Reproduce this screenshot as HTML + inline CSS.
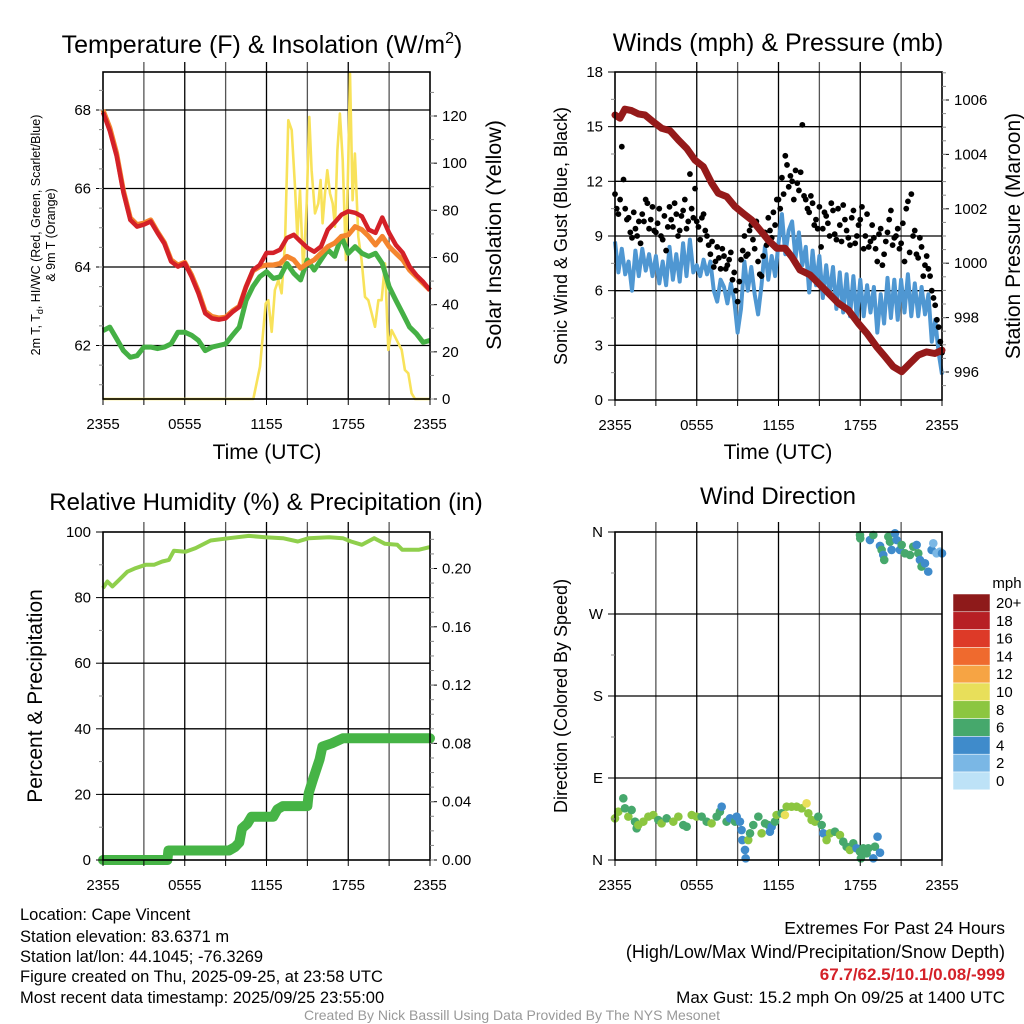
<!DOCTYPE html>
<html><head><meta charset="utf-8"><style>
html,body{margin:0;padding:0;background:#fff;}
svg{display:block;font-family:"Liberation Sans",Arial,sans-serif;}
</style></head><body>
<svg id="c" width="1024" height="1024" viewBox="0 0 1024 1024"></svg>
<script>
// ---------- Panel 1 data (hours 0..24 step 0.5) ----------
const tempRed=[67.94,67.47,66.83,65.9,65.2,65.03,65.08,65.16,64.87,64.6,64.14,64.01,64.1,63.75,63.33,62.82,62.69,62.66,62.69,62.85,62.98,63.5,63.92,64.05,64.36,64.36,64.44,64.74,64.82,64.65,64.49,64.39,64.52,64.95,65.13,65.33,65.42,65.38,65.29,64.95,64.87,65.26,64.87,64.56,64.36,64.01,63.79,63.62,63.41];
const tempOrange=[68.0,67.55,66.9,65.95,65.25,65.08,65.12,65.2,64.9,64.63,64.18,64.05,64.12,63.8,63.38,62.87,62.74,62.7,62.72,62.88,63.0,63.5,63.9,64.01,64.05,64.05,64.09,64.27,64.18,63.97,64.09,64.18,64.35,64.52,64.61,64.78,64.82,65.03,64.95,64.78,64.56,64.78,64.52,64.35,64.18,63.92,63.75,63.58,63.41];
const tempGreen=[62.38,62.47,62.17,61.87,61.7,61.74,61.96,61.96,61.92,61.96,62.04,62.34,62.34,62.26,62.13,61.87,61.96,62.0,62.04,62.26,62.47,63.15,63.5,63.75,63.88,63.71,63.75,64.09,63.84,63.67,64.18,63.92,64.18,64.44,64.27,64.78,64.35,64.52,64.35,64.27,64.35,64.09,63.5,63.15,62.81,62.47,62.3,62.08,62.13];
const solarHours=[0,11.03,11.52,11.94,12.13,12.38,12.62,12.87,13.11,13.36,13.6,13.85,14.09,14.26,14.46,14.7,14.95,15.14,15.31,15.56,15.8,15.97,16.12,16.29,16.46,16.66,16.86,17.03,17.2,17.39,17.59,17.83,18.0,18.13,18.32,18.49,18.74,18.98,19.23,19.47,19.72,19.96,20.21,20.45,20.7,20.94,21.18,21.43,21.67,21.92,22.16,22.41,22.65,22.9,24];
const solarVals=[0,0,13.7,40.5,41.9,28.5,46.2,50.4,44.8,66.0,118.2,114,90,68.8,88.6,53.3,82.9,119.6,97,78.7,82.9,92.8,74.5,87.2,97,87.2,82.9,73,105.5,121,101.3,58.9,101.3,138,84.3,104.1,68.8,58.9,43.3,41.9,36.3,30.6,41.9,41.9,57.5,20.8,29.2,26.4,23.6,20.8,12.3,10.9,2.4,0,0];
const tempTicks=[62,64,66,68];
const solarTicks=[0,20,40,60,80,100,120];
const timeLabels=["2355","0555","1155","1755","2355"];
// ---------- Panel 2 data ----------
const pressHours=[0,0.37,0.73,1.22,1.71,2.2,2.81,3.43,4.04,4.65,5.26,5.87,6.48,7.1,7.58,8.2,8.81,9.42,10.03,10.64,11.25,11.87,12.48,12.97,13.58,14.31,14.92,15.66,16.39,17.12,17.86,18.47,19.2,19.81,20.42,21.04,21.65,22.26,22.87,23.48,24];
const pressVals=[1005.45,1005.33,1005.66,1005.61,1005.49,1005.45,1005.2,1004.96,1004.87,1004.53,1004.22,1003.79,1003.55,1002.94,1002.57,1002.45,1002.08,1001.83,1001.59,1001.22,1000.85,1000.55,1000.55,1000.24,999.75,999.57,999.27,998.9,998.53,998.28,997.79,997.43,996.93,996.57,996.2,996.01,996.32,996.62,996.74,996.68,996.8];
const windSpeed=[8.7,7.0,8.3,6.9, 7.6,6.0,8.2,6.8, 8.3,7.1,8.0,6.8, 7.9,6.4,7.6,6.3, 8.4,6.6,8.0,6.5, 8.6,6.8,8.8,7.0, 7.4,6.8,7.7,6.9, 7.6,6.0,5.4,6.6, 6.2,5.3,6.4,5.5, 3.7,5.0,7.6,6.0, 7.3,5.8,4.7,6.3, 8.4,6.6,7.9,6.8, 8.6,10.2,8.0,9.3, 9.8,7.8,9.2,7.4, 8.4,5.9,8.2,6.3, 7.9,5.6,7.4,5.8, 7.3,5.0,7.0,4.8, 6.9,4.6,6.8,4.5, 6.6,4.6,6.3,4.8, 6.2,3.7,5.8,4.2, 6.7,4.5,6.6,4.4, 6.6,4.8,6.9,4.6, 6.4,4.6,6.2,4.7, 5.8,3.2,4.4,2.6, 1.4];
const gustA=[11.3,10.2,13.9,10.5, 10.0,8.9,9.4,9.8, 10.2,11.0,9.4,10.6, 9.2,10.5,8.8,8.2, 10.6,9.5,10.2,9.3, 10.4,9.4,12.4,10.0, 9.8,8.8,10.2,9.0, 8.0,7.3,8.4,7.2, 7.9,7.4,8.1,7.0, 5.4,7.7,9.0,8.0, 9.6,8.3,7.6,6.8, 9.2,10.0,8.9,9.6, 11.0,12.2,13.4,11.7, 12.0,12.6,11.5,15.1, 11.0,10.3,10.8,9.9, 10.6,9.4,10.1,9.0, 10.4,8.8,9.6,10.7, 9.3,8.5,10.4,9.0, 9.9,8.3,10.2,8.7, 8.9,7.6,9.4,8.0, 9.2,10.4,8.9,9.4, 8.6,7.6,10.9,11.3, 9.3,7.8,8.4,7.4, 7.2,6.0,5.2,4.0, 2.6];
const gustB=[10.5,11.0,12.1,9.9, 9.2,10.3,9.0,8.6, 9.8,10.8,9.9,9.3, 9.7,9.0,10.1,9.5, 9.9,10.8,9.0,10.1, 11.0,9.8,10.5,11.6, 9.5,10.0,9.3,8.5, 8.7,7.6,7.8,8.3, 7.2,7.7,6.6,6.0, 6.5,8.2,7.9,9.3, 8.8,9.8,6.9,7.9, 8.5,9.3,10.3,11.0, 10.5,11.3,12.9,12.3, 11.0,11.9,12.5,11.2, 10.5,11.2,9.6,9.4, 8.4,10.3,9.7,10.8, 9.1,10.5,8.7,9.9, 8.9,10.0,8.6,9.6, 10.6,9.0,8.4,9.6, 8.3,9.1,7.4,8.7, 9.9,8.5,9.0,8.3, 9.7,10.5,8.1,9.0, 8.0,8.9,6.8,7.9, 6.8,5.6,4.4,3.2];
const windTicks=[0,3,6,9,12,15,18];
const pressTicks=[996,998,1000,1002,1004,1006];
// ---------- Panel 3 data ----------
const rhHours=[0,0.32,0.69,1.18,1.79,2.4,3.13,3.74,4.35,4.84,5.2,6.06,6.8,7.9,9.25,10.7,11.9,13.2,14.3,15.1,16.6,17.6,18.2,19.0,19.9,20.7,21.6,21.96,23.2,24];
const rhVals=[82.9,84.9,83.4,85.4,87.9,89,90,90,91,91.5,94.3,94,95.1,97.4,98.1,98.8,98.4,98.1,97.1,98.1,98.4,98.1,97.1,96.1,98.1,96.4,96.1,94.6,94.6,95.4];
const precipHours=[0,4.73,4.8,9.25,9.7,10.0,10.2,10.6,10.9,12.5,12.8,13.2,15.0,15.1,15.4,15.9,16.1,16.8,17.6,24];
const precipVals=[0,0,0.0065,0.0065,0.009,0.012,0.0217,0.025,0.0297,0.0297,0.0348,0.037,0.037,0.0458,0.0549,0.069,0.0778,0.0801,0.0835,0.0835];
const rhTicks=[0,20,40,60,80,100];
const precipTicks=[0,0.04,0.08,0.12,0.16,0.2];
// ---------- Panel 4 data ----------
const dirHours=[0,0.24,0.61,0.73,0.98,1.22,1.47,1.59,1.71,2.08,2.45,2.81,3.18,3.42,3.79,4.28,4.65,5.01,5.26,5.63,5.99,6.36,6.73,7.09,7.46,7.7,7.83,8.19,8.44,8.81,8.93,9.17,9.29,9.34,9.54,9.59,9.78,9.91,10.15,10.52,10.76,11.01,11.25,11.37,11.5,11.74,11.86,12.23,12.47,12.6,12.96,13.33,13.7,14.06,14.19,14.43,14.68,14.92,15.17,15.29,15.53,15.78,16.14,16.51,16.75,17.0,17.24,17.49,17.73,17.98,18.05,18.22,18.47,18.59,18.96,19.08,19.27,19.45,
 17.98,18.0,18.71,18.96,19.45,19.57,19.69,19.76,20.06,20.18,20.3,20.55,20.67,20.91,21.04,21.28,21.65,21.89,22.14,22.26,22.38,22.5,22.75,22.99,23.24,23.36,23.6,23.85,24.0];
const dirDeg=[45.7,53.0,67.7,56.7,47.6,54.9,42.1,34.8,38.4,42.1,47.6,49.4,43.9,40.2,45.7,42.1,47.6,38.4,36.6,49.4,47.6,47.6,42.1,40.2,47.6,53.0,58.5,42.1,45.7,42.1,47.6,42.1,32.9,21.9,11.0,1.8,21.9,29.3,38.4,47.6,29.3,40.2,38.4,31.1,36.6,42.1,49.4,51.2,49.4,58.5,58.5,58.5,56.7,62.2,51.2,43.9,42.1,47.6,38.4,29.3,21.9,29.3,31.1,27.4,20.1,14.6,11.0,18.3,12.8,9.1,1.8,12.8,7.3,12.8,1.8,14.6,25.6,8.0,
 356.7,353.1,351.2,356.7,344.7,340.3,334.8,329.3,354.9,349.4,340.3,358.6,351.2,340.3,345.8,336.6,334.8,343.9,345.8,336.6,329.3,322.0,325.6,316.5,340.3,347.6,336.6,338.4,336.6];
const dirSpeed=[9,9,7,7,9,7,7,7,9,9,9,9,7,9,7,9,9,7,7,9,9,7,7,9,7,7,5,7,5,7,5,5,5,5,5,5,9,7,7,7,9,7,7,5,5,7,9,7,11,9,9,9,9,11,9,9,9,7,7,5,9,9,7,9,7,7,9,7,5,7,7,7,7,7,5,7,5,5,
 7,7,5,7,5,7,5,7,7,7,5,5,5,5,7,7,7,7,5,7,5,7,5,5,5,3,3,3,5];
const dirLabels=["N","E","S","W","N"];
const speedBins=["20+","18","16","14","12","10","8","6","4","2","0"];

const NS="http://www.w3.org/2000/svg";
const svg=document.getElementById("c");
function mk(tag,attrs,parent){const e=document.createElementNS(NS,tag);for(const k in attrs)e.setAttribute(k,attrs[k]);(parent||svg).appendChild(e);return e;}
function txt(s,x,y,size,anchor,parent,extra){const t=mk("text",Object.assign({x:x,y:y,"font-size":size,"text-anchor":anchor||"middle",fill:"#000"},extra||{}),parent);t.textContent=s;return t;}

function lin(d0,d1,r0,r1){return v=>r0+(v-d0)*(r1-r0)/(d1-d0);}
function pathFrom(xs,ys,fx,fy){let d="";for(let i=0;i<xs.length;i++){d+=(i?"L":"M")+fx(xs[i]).toFixed(1)+","+fy(ys[i]).toFixed(1);}return d;}
function stepHours(n,step){const a=[];for(let i=0;i<n;i++)a.push(i*step);return a;}

function frame(g,x0,x1,y0,y1){
  for(let i=1;i<8;i++){const x=x0+(x1-x0)*i/8;const l=mk("line",{x1:x,x2:x,y1:y0-10,y2:y1,stroke:i%2?"#555":"#000","stroke-width":1.3},g);
  
  }
}
function border(g,x0,x1,y0,y1){const r=mk("rect",{x:x0,y:y0,width:x1-x0,height:y1-y0,fill:"none",stroke:"#000","stroke-width":1.6},g);

}
function xTicks(g,x0,x1,y1){for(let i=0;i<timeLabels.length;i++){const x=x0+(x1-x0)*i/4;const t=txt(timeLabels[i],x,y1+30,15,"middle",g);

}
for(let i=0;i<=8;i++){const x=x0+(x1-x0)*i/8;mk("line",{x1:x,x2:x,y1:y1,y2:y1+6,stroke:"#000","stroke-width":1},g);}}
function hGrid(g,ticks,fy,x0,x1){ticks.forEach(v=>{const y=fy(v);const l=mk("line",{x1:x0,x2:x1,y1:y,y2:y,stroke:"#000","stroke-width":1.3},g);

});}
function leftTicks(g,ticks,fy,x0,labels,minor){ticks.forEach((v,i)=>{const y=fy(v);mk("line",{x1:x0-7,x2:x0,y1:y,y2:y,stroke:"#000","stroke-width":1},g);const t=txt(labels?labels[i]:String(v),x0-12,y+5,15,"end",g);

});
 if(minor)minor.forEach(v=>{const y=fy(v);mk("line",{x1:x0-4,x2:x0,y1:y,y2:y,stroke:"#888","stroke-width":1},g);});}
function rightTicks(g,ticks,fy,x1,fmt,minor){ticks.forEach(v=>{const y=fy(v);mk("line",{x1:x1,x2:x1+7,y1:y,y2:y,stroke:"#000","stroke-width":1},g);const t=txt(fmt(v),x1+12,y+5,15,"start",g);

});
 if(minor)minor.forEach(v=>{const y=fy(v);mk("line",{x1:x1,x2:x1+4,y1:y,y2:y,stroke:"#888","stroke-width":1},g);});}
function range(a,b,s){const r=[];for(let v=a;v<=b+1e-9;v+=s)r.push(+v.toFixed(4));return r;}

// ================= Panel 1 =================
(function(){
 const g=mk("g",{});
 
 
 const x0=103,x1=430,y0=72,y1=399;
 const fx=lin(0,24,x0,x1), fy=lin(64,66,267,188.5), fs=lin(0,120,399,116);
 frame(g,x0,x1,y0,y1);hGrid(g,tempTicks,fy,x0,x1);
 const h=stepHours(49,0.5);
 const ys=mk("path",{d:pathFrom(solarHours,solarVals,fx,fs),fill:"none",stroke:"#f8e25a","stroke-width":2.6,"stroke-linejoin":"round"},g);
 
 
 const gr=mk("path",{d:pathFrom(h,tempGreen,fx,fy),fill:"none",stroke:"#45b045","stroke-width":5,"stroke-linejoin":"round"},g);
 
 
 const or=mk("path",{d:pathFrom(h,tempOrange,fx,fy),fill:"none",stroke:"#f4852e","stroke-width":5,"stroke-linejoin":"round"},g);
 
 
 const rd=mk("path",{d:pathFrom(h,tempRed,fx,fy),fill:"none",stroke:"#d42128","stroke-width":4.5,"stroke-linejoin":"round"},g);
 
 
 border(g,x0,x1,y0,y1);
 leftTicks(g,tempTicks,fy,x0,null,range(61,69,0.5).filter(v=>fy(v)>=y0&&fy(v)<=y1));
 rightTicks(g,solarTicks,fs,x1,v=>String(v),range(0,130,10));
 xTicks(g,x0,x1,y1);
 const t=txt("Temperature (F) & Insolation (W/m",262,53,25,"middle",g);
 const ts=mk("tspan",{dy:-10,"font-size":16},t);ts.textContent="2";const ts2=mk("tspan",{dy:10},t);ts2.textContent=")";
 const xt=txt("Time (UTC)",267,459,21,"middle",g);
 const l1=txt("2m T, T",0,0,12.5,"middle",g,{transform:"translate(40,235) rotate(-90)"});
 const sub=mk("tspan",{dy:3,"font-size":9},l1);sub.textContent="d";const r1=mk("tspan",{dy:-3},l1);r1.textContent=", HI/WC (Red, Green, Scarlet/Blue)";
 
 const l2=txt("& 9m T (Orange)",0,0,12.5,"middle",g,{transform:"translate(55,235) rotate(-90)"});
 const rt=txt("Solar Insolation (Yellow)",0,0,21.5,"middle",g,{transform:"translate(501,235) rotate(-90)"});
})();

// ================= Panel 2 =================
(function(){
 const g=mk("g",{});
 
 
 const x0=615,x1=942,y0=72,y1=400;
 const fx=lin(0,24,x0,x1), fy=lin(0,18,y1,y0), fp=lin(996,1006,372,100);
 frame(g,x0,x1,y0,y1);hGrid(g,windTicks.slice(1,6),fy,x0,x1);
 const hq=stepHours(97,0.25);
 const bl=mk("path",{d:pathFrom(hq,windSpeed,fx,fy),fill:"none",stroke:"#4f97d2","stroke-width":4,"stroke-linejoin":"round"},g);
 
 
 gustA.forEach((v,i)=>{const c=mk("circle",{cx:fx(i*0.25),cy:fy(v),r:2.9,fill:"#000"},g);
  
  });
 gustB.forEach((v,i)=>{const c=mk("circle",{cx:fx(i*0.25+0.125),cy:fy(v),r:2.9,fill:"#000"},g);
  
  });
 const pr=mk("path",{d:pathFrom(pressHours,pressVals,fx,fp),fill:"none",stroke:"#951a1a","stroke-width":7,"stroke-linejoin":"round","stroke-linecap":"round"},g);
 
 
 border(g,x0,x1,y0,y1);
 leftTicks(g,windTicks,fy,x0,null,range(1.5,16.5,3));
 rightTicks(g,pressTicks,fp,x1,v=>String(v),range(995.5,1007,0.5).filter(v=>fp(v)>=y0&&fp(v)<=y1));
 xTicks(g,x0,x1,y1);
 const t=txt("Winds (mph) & Pressure (mb)",778,51,25,"middle",g);
 const xt=txt("Time (UTC)",778,459,21,"middle",g);
 const lt=txt("Sonic Wind & Gust (Blue, Black)",0,0,18,"middle",g,{transform:"translate(567,236) rotate(-90)"});
 const rt=txt("Station Pressure (Maroon)",0,0,21,"middle",g,{transform:"translate(1020,236) rotate(-90)"});
})();

// ================= Panel 3 =================
(function(){
 const g=mk("g",{});
 
 
 const x0=103,x1=430,y0=532,y1=860;
 const fx=lin(0,24,x0,x1), fy=lin(0,100,y1,y0), fp=lin(0,0.04,y1,801.7);
 frame(g,x0,x1,y0,y1);hGrid(g,rhTicks.slice(1,5),fy,x0,x1);
 const rh=mk("path",{d:pathFrom(rhHours,rhVals,fx,fy),fill:"none",stroke:"#8fcf4c","stroke-width":4,"stroke-linejoin":"round"},g);
 
 
 const pp=mk("path",{d:pathFrom(precipHours,precipVals,fx,fp),fill:"none",stroke:"#46b446","stroke-width":10,"stroke-linejoin":"round","stroke-linecap":"round"},g);
 
 
 border(g,x0,x1,y0,y1);
 leftTicks(g,rhTicks,fy,x0,null,range(10,90,20));
 rightTicks(g,precipTicks,fp,x1,v=>v.toFixed(2),range(0,0.22,0.01));
 xTicks(g,x0,x1,y1);
 const t=txt("Relative Humidity (%) & Precipitation (in)",266,510,24,"middle",g);
 const lt=txt("Percent & Precipitation",0,0,21,"middle",g,{transform:"translate(42,696) rotate(-90)"});
})();

// ================= Panel 4 =================
(function(){
 const g=mk("g",{});
 
 
 const x0=615,x1=942,y0=532,y1=860;
 const fx=lin(0,24,x0,x1), fy=lin(0,360,y1,y0);
 const colors=["#8e1a1a","#b71f24","#dd3a28","#ef6a2e","#f6a444","#e8df5a","#8cc640","#46a86c","#3f8bcb","#7ab7e5","#bde2f7"];
 function colorFor(s){let idx=10-Math.min(10,Math.floor(s/2));return colors[idx];}
 frame(g,x0,x1,y0,y1);hGrid(g,[90,180,270],fy,x0,x1);
 dirHours.forEach((hh,i)=>{const c=mk("circle",{cx:fx(hh),cy:fy(dirDeg[i]),r:4.3,fill:colorFor(dirSpeed[i])},g);
  
  });
 border(g,x0,x1,y0,y1);
 leftTicks(g,[0,90,180,270,360],fy,x0,dirLabels,[45,135,225,315]);
 xTicks(g,x0,x1,y1);
 const t=txt("Wind Direction",778,504,24,"middle",g);
 const lt=txt("Direction (Colored By Speed)",0,0,18,"middle",g,{transform:"translate(567,696) rotate(-90)"});
 const lg=mk("g",{},g);
 const ut=txt("mph",1007,588,15,"middle",lg);
 speedBins.forEach((lab,i)=>{const y=594+i*17.8;const r=mk("rect",{x:953,y:y,width:37,height:17.8,fill:colors[i],stroke:"#fff","stroke-width":0.5},lg);
  
  
  const tl=txt(lab,996,y+14,15,"start",lg);
  
  });
})();

// ================= Footer =================
(function(){
 const g=mk("g",{});
 
 
 const left=["Location: Cape Vincent","Station elevation: 83.6371 m","Station lat/lon: 44.1045; -76.3269","Figure created on Thu, 2025-09-25, at 23:58 UTC","Most recent data timestamp: 2025/09/25 23:55:00"];
 const ly=[920,942,962,982,1003];
 left.forEach((s,i)=>{const t=txt(s,20,ly[i],16.5,"start",g);});
 const r1=txt("Extremes For Past 24 Hours",1005,934,17.5,"end",g);
 const r2=txt("(High/Low/Max Wind/Precipitation/Snow Depth)",1005,958,18,"end",g);
 const r3=txt("67.7/62.5/10.1/0.08/-999",1005,980,17,"end",g,{fill:"#d42128","font-weight":"bold"});
 const r4=txt("Max Gust: 15.2 mph On 09/25 at 1400 UTC",1005,1003,17,"end",g);
 const cr=txt("Created By Nick Bassill Using Data Provided By The NYS Mesonet",512,1020,14,"middle",g,{fill:"#999"});
})();
</script>
</body></html>
